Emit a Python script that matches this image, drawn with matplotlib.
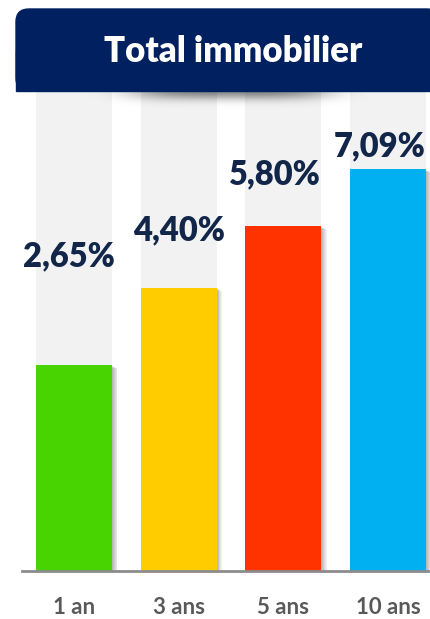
import matplotlib
matplotlib.use("Agg")
import numpy as np
import matplotlib.pyplot as plt
import matplotlib.transforms as mtransforms
from matplotlib.patches import FancyBboxPatch, Rectangle

plt.rcParams['font.family'] = ['Lato', 'DejaVu Sans']

# data
categories = ["1 an", "3 ans", "5 ans", "10 ans"]
values = [2.65, 4.40, 5.80, 7.09]
value_labels = ["2,65%", "4,40%", "5,80%", "7,09%"]
bar_colors = ["#48D400", "#FFCC00", "#FF3300", "#00B0F0"]
title = "Total immobilier"

# styling
axis_floor = -2.0
axis_top = 8.86
label_dy = [71, 34, 30, 9]     # points above bar top
label_dx = [-4, 0, -6, -6]     # points

fig = plt.figure(figsize=(4.30, 6.19), dpi=100)
W, H = 430, 619
ax = fig.add_axes([22 / W, 1 - 570.5 / H, 408 / W, (570.5 - 91) / H])

x = list(range(len(categories)))
width = 0.726

# grey background columns
ax.bar(x, [axis_top - axis_floor] * len(x), bottom=axis_floor, width=width,
       color="#F2F2F2", zorder=1)

# soft shadow on bars
heights = [v - axis_floor for v in values]
for i in range(1, 7):
    off = mtransforms.offset_copy(ax.transData, fig=fig, x=i * 0.9, y=-i * 0.5, units='dots')
    ax.bar(x, heights, bottom=axis_floor, width=width, color="#000000",
           alpha=0.05, zorder=2, transform=off)

ax.bar(x, heights, bottom=axis_floor, width=width, color=bar_colors, zorder=3)

for xi, v, lab, dy, dx in zip(x, values, value_labels, label_dy, label_dx):
    ax.annotate(lab, (xi, v), xytext=(dx, dy), textcoords='offset points',
                ha='center', va='baseline', fontsize=23.5, fontweight='heavy',
                color="#12264A", zorder=5, annotation_clip=False)

ax.set_xlim(-0.497, 3.40)
ax.set_ylim(axis_floor, axis_top)
ax.set_xticks(x)
ax.set_xticklabels(categories, fontsize=16, fontweight='bold', color="#595959")
ax.tick_params(axis='x', length=0, pad=19)
ax.set_yticks([])
for side in ["top", "right", "left"]:
    ax.spines[side].set_visible(False)
ax.spines["bottom"].set_color("#8C8C8C")
ax.spines["bottom"].set_linewidth(2)
ax.spines["bottom"].set_zorder(6)

# header shadow: smooth dark gradient under the box
sh = fig.add_axes([50 / W, 1 - 115 / H, 360 / W, 24 / H], zorder=7)
gx = np.linspace(-1, 1, 200)
gy = np.linspace(0, 1, 40)
shade = np.exp(-(gx[None, :] / 0.55) ** 4) * np.exp(-(gy[:, None] / 0.35) ** 2)
rgba = np.zeros((40, 200, 4))
rgba[..., 3] = 0.45 * shade
sh.imshow(rgba, aspect='auto', interpolation='bilinear')
sh.axis('off')

# header box
navy = "#002060"
fig.patches.append(FancyBboxPatch((16 / W, 1 - 91 / H), (440 - 16) / W, (91 - 9) / H,
                                  boxstyle="round,pad=0,rounding_size=0.03",
                                  transform=fig.transFigure, color=navy, zorder=8,
                                  mutation_aspect=W / H))
fig.patches.append(Rectangle((16 / W, 1 - 91 / H), (440 - 16) / W, 40 / H,
                             transform=fig.transFigure, color=navy, zorder=8))
fig.text(233 / W, 1 - 52 / H, title, ha='center', va='center', fontsize=25,
         fontweight='heavy', color="white", zorder=9)

fig.savefig("out.png", dpi=100)
